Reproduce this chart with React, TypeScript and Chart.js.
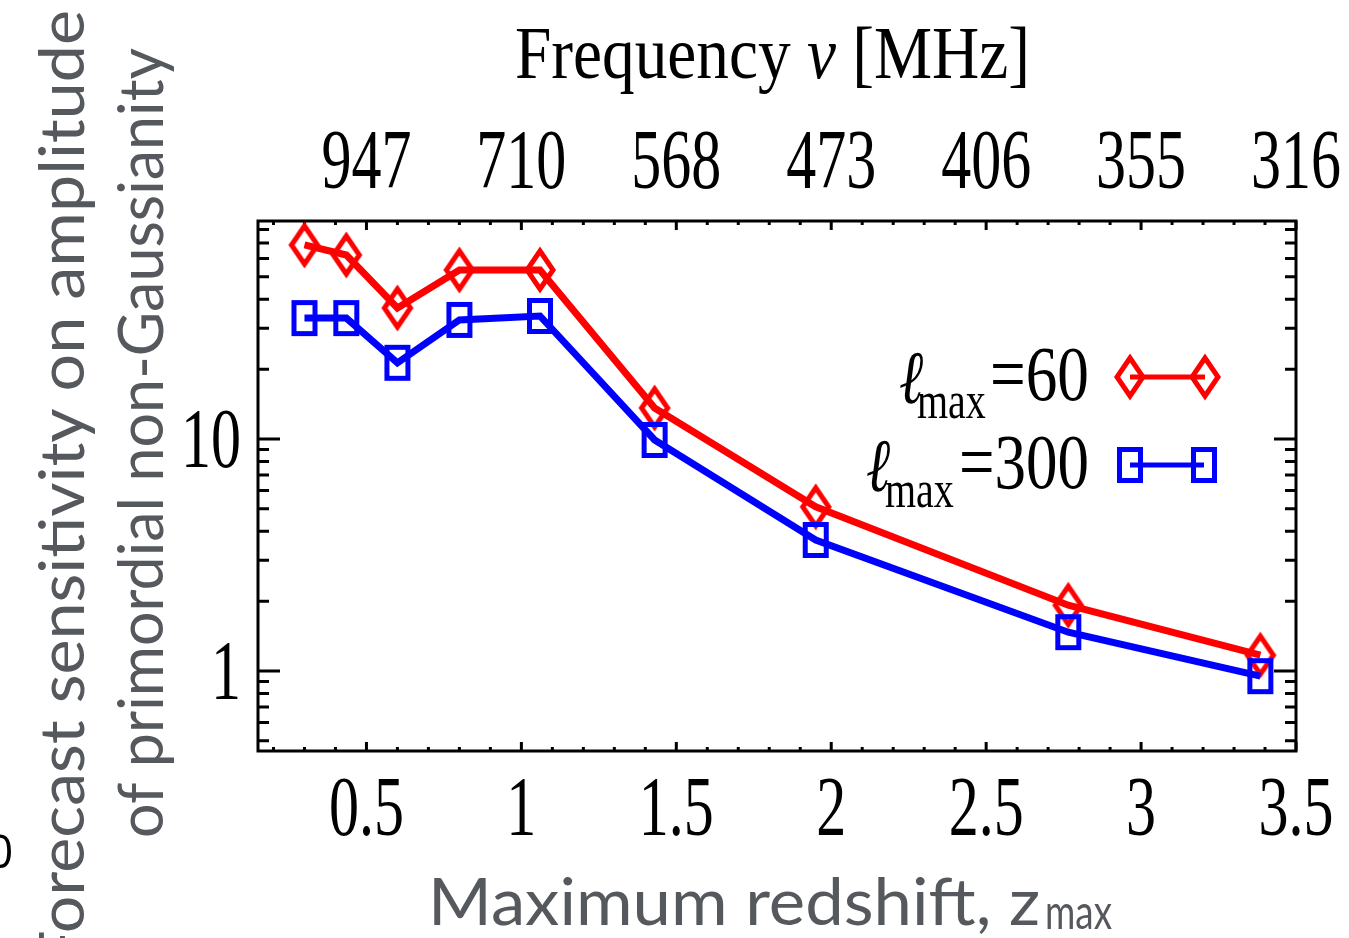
import React, { useEffect, useRef } from "react";
import { Chart, registerables } from "chart.js";

Chart.register(...registerables);

// ---- data ----
const zmax = [0.3, 0.435, 0.6, 0.8, 1.06, 1.43, 1.95, 2.765, 3.385];
const sigmaLmax60 = [68.6, 62.1, 36.7, 53.5, 53.5, 13.6, 5.1, 1.92, 1.17];
const sigmaLmax300 = [33.2, 33.2, 21.3, 32.6, 33.9, 9.9, 3.67, 1.47, 0.95];

const xTickValues = [0.5, 1, 1.5, 2, 2.5, 3, 3.5];
const xTickLabels = ["0.5", "1", "1.5", "2", "2.5", "3", "3.5"];
const freqTickLabels = ["947", "710", "568", "473", "406", "355", "316"];
const yTickValues = [1, 10];
const yTickLabels = ["1", "10"];
const yMinorValues = [0.5, 0.6, 0.7, 0.8, 0.9, 2, 3, 4, 5, 6, 7, 8, 9, 20, 30, 40, 50, 60, 70, 80];
const xMinorValues = [
  0.2, 0.3, 0.4, 0.6, 0.7, 0.8, 0.9, 1.1, 1.2, 1.3, 1.4, 1.6, 1.7, 1.8, 1.9,
  2.1, 2.2, 2.3, 2.4, 2.6, 2.7, 2.8, 2.9, 3.1, 3.2, 3.3, 3.4,
];
const seriesNames = ["=60", "=300"];
const seriesColors = ["#ff0000", "#0000ff"];

const xTitle = "Maximum redshift, z";
const xTitleSub = "max";
const yTitleLines = ["Forecast sensitivity on amplitude", "of primordial non-Gaussianity"];
const topTitle = ["Frequency ", "\u03bd", " [MHz]"];

const SERIF = '"Liberation Serif", "DejaVu Serif", serif';
const SANS = 'Lato, "Open Sans", sans-serif';
const GRAY = "#55595e";

function makeDiamond(color: string) {
  const c = document.createElement("canvas");
  c.width = 34;
  c.height = 48;
  const g = c.getContext("2d")!;
  g.strokeStyle = color;
  g.lineWidth = 5;
  g.lineJoin = "miter";
  g.beginPath();
  g.moveTo(17, 5);
  g.lineTo(30, 24);
  g.lineTo(17, 43);
  g.lineTo(4, 24);
  g.closePath();
  g.stroke();
  return c;
}

function makeSquare(color: string) {
  const c = document.createElement("canvas");
  c.width = 30;
  c.height = 40;
  const g = c.getContext("2d")!;
  g.strokeStyle = color;
  g.lineWidth = 5;
  g.strokeRect(4.5, 4.5, 21, 31);
  return c;
}

function drawStr(
  ctx: CanvasRenderingContext2D,
  s: string,
  x: number,
  y: number,
  font: string,
  align: CanvasTextAlign = "left",
  sx = 1,
  sy = 1,
  color = "#000"
) {
  ctx.save();
  ctx.font = font;
  ctx.fillStyle = color;
  ctx.textAlign = align;
  ctx.textBaseline = "alphabetic";
  ctx.translate(x, y);
  ctx.scale(sx, sy);
  ctx.fillText(s, 0, 0);
  ctx.restore();
}

function fitWidth(ctx: CanvasRenderingContext2D, s: string, font: string) {
  ctx.save();
  ctx.font = font;
  const w = ctx.measureText(s).width;
  ctx.restore();
  return w;
}

export default function App() {
  const ref = useRef<HTMLCanvasElement>(null);

  useEffect(() => {
    const canvas = ref.current!;
    const diamond = makeDiamond(seriesColors[0]);
    const square = makeSquare(seriesColors[1]);
    const markers = [diamond, square];

    const framePlugin = {
      id: "framePlugin",
      beforeDatasetsDraw(chart: any) {
        const ctx: CanvasRenderingContext2D = chart.ctx;
        const { left, right, top, bottom } = chart.chartArea;
        const xs = chart.scales.x;
        const ys = chart.scales.y;
        ctx.save();
        ctx.strokeStyle = "#000";
        ctx.lineCap = "butt";
        const xt = (v: number, len: number, lw: number) => {
          const px = xs.getPixelForValue(v);
          ctx.lineWidth = lw;
          ctx.beginPath();
          ctx.moveTo(px, bottom);
          ctx.lineTo(px, bottom - len);
          ctx.moveTo(px, top);
          ctx.lineTo(px, top + len);
          ctx.stroke();
        };
        xs.ticks.forEach((t: any) => xt(t.value, 9, 3));
        xMinorValues.forEach((v) => xt(v, 4, 3));
        const yt = (v: number, len: number, lw: number) => {
          const py = ys.getPixelForValue(v);
          ctx.lineWidth = lw;
          ctx.beginPath();
          ctx.moveTo(left, py);
          ctx.lineTo(left + len, py);
          ctx.moveTo(right, py);
          ctx.lineTo(right - len, py);
          ctx.stroke();
        };
        ys.ticks.forEach((t: any) => yt(t.value, 22, 3));
        yMinorValues.forEach((v) => yt(v, 11, 3));
        ctx.lineWidth = 3;
        ctx.strokeRect(left, top, right - left, bottom - top);
        ctx.restore();
      },
      afterDraw(chart: any) {
        const ctx: CanvasRenderingContext2D = chart.ctx;
        const xs = chart.scales.x;
        const ys = chart.scales.y;
        const tickFont = `60px ${SERIF}`;
        xs.ticks.forEach((t: any, i: number) => {
          const px = xs.getPixelForValue(t.value);
          drawStr(ctx, xTickLabels[i], px, 835, tickFont, "center", 1, 1.4);
          drawStr(ctx, freqTickLabels[i], px, 188, tickFont, "center", 1, 1.4);
        });
        ys.ticks.forEach((t: any, i: number) => {
          const py = ys.getPixelForValue(t.value);
          drawStr(ctx, yTickLabels[i], 241, py + 28, tickFont, "right", 1, 1.4);
        });

        // top title
        const tFonts = [`62px ${SERIF}`, `italic 62px ${SERIF}`, `62px ${SERIF}`];
        const ws = topTitle.map((s, i) => fitWidth(ctx, s, tFonts[i]));
        const total = ws.reduce((a, b) => a + b, 0);
        const sxT = (1030 - 515) / total;
        let cx = 515;
        topTitle.forEach((s, i) => {
          drawStr(ctx, s, cx, 78, tFonts[i], "left", sxT, 1.18);
          cx += ws[i] * sxT;
        });

        // bottom title
        const bFont = `66px ${SANS}`;
        const bw = fitWidth(ctx, xTitle, bFont);
        drawStr(ctx, xTitle, 428, 925, bFont, "left", (1040 - 428) / bw, 1, GRAY);
        const sFont = `48px ${SANS}`;
        const sw = fitWidth(ctx, xTitleSub, sFont);
        drawStr(ctx, xTitleSub, 1045, 929, sFont, "left", (1112 - 1045) / sw, 1, GRAY);

        // y titles (rotated)
        const yFont = `62px ${SANS}`;
        const yPos = [
          { bx: 84, start: 968, end: 10 },
          { bx: 163, start: 838, end: 48 },
        ];
        yTitleLines.forEach((s, i) => {
          const w = fitWidth(ctx, s, yFont);
          const p = yPos[i];
          ctx.save();
          ctx.font = yFont;
          ctx.fillStyle = GRAY;
          ctx.textAlign = "left";
          ctx.textBaseline = "alphabetic";
          ctx.translate(p.bx, p.start);
          ctx.rotate(-Math.PI / 2);
          ctx.scale((p.start - p.end) / w, 1);
          ctx.fillText(s, 0, 0);
          ctx.restore();
        });

        // stray fragment at the left edge
        drawStr(ctx, "0", -13, 868, `46px "Open Sans", sans-serif`, "left", 1, 1, "#000");

        // legend
        const legend = [
          { ellX: 899, base: 400, subX: 917, subBase: 418, valX: 990, y: 377, x1: 1130, x2: 1205 },
          { ellX: 866, base: 488, subX: 885, subBase: 507, valX: 959, y: 465, x1: 1130, x2: 1204 },
        ];
        legend.forEach((L, i) => {
          drawStr(ctx, "\u2113", L.ellX, L.base + 3, `italic 58px ${SERIF}`, "left", 1, 1.3);
          drawStr(ctx, "max", L.subX, L.subBase, `40px ${SERIF}`, "left", 1, 1.3);
          const vf = `56px ${SERIF}`;
          const vw = fitWidth(ctx, seriesNames[i], vf);
          drawStr(ctx, seriesNames[i], L.valX, L.base, vf, "left", (1089 - L.valX) / vw, 1.38);
          ctx.save();
          ctx.strokeStyle = seriesColors[i];
          ctx.lineWidth = 5;
          ctx.beginPath();
          ctx.moveTo(L.x1, L.y);
          ctx.lineTo(L.x2, L.y);
          ctx.stroke();
          ctx.restore();
          const m = markers[i];
          ctx.drawImage(m, L.x1 - m.width / 2, L.y - m.height / 2);
          ctx.drawImage(m, L.x2 - m.width / 2, L.y - m.height / 2);
        });
      },
    };

    const hidden = {
      ticks: { display: false },
      grid: { display: false, drawTicks: false },
      border: { display: false },
    };

    const chart = new Chart(canvas, {
      type: "line",
      data: {
        datasets: [
          {
            label: "lmax=60",
            data: zmax.map((z, i) => ({ x: z, y: sigmaLmax60[i] })),
            borderColor: seriesColors[0],
            backgroundColor: seriesColors[0],
            borderWidth: 7,
            pointStyle: diamond as any,
            pointRadius: 14,
            tension: 0,
            fill: false,
            order: 2,
          },
          {
            label: "lmax=300",
            data: zmax.map((z, i) => ({ x: z, y: sigmaLmax300[i] })),
            borderColor: seriesColors[1],
            backgroundColor: seriesColors[1],
            borderWidth: 7,
            pointStyle: square as any,
            pointRadius: 14,
            tension: 0,
            fill: false,
            order: 1,
          },
        ],
      },
      options: {
        responsive: false,
        animation: false,
        devicePixelRatio: 1,
        layout: { padding: 0 },
        plugins: { legend: { display: false }, tooltip: { enabled: false } },
        scales: {
          x: {
            type: "linear",
            position: "bottom",
            min: 0.15,
            max: 3.5,
            afterBuildTicks: (s: any) => {
              s.ticks = xTickValues.map((v) => ({ value: v }));
            },
            afterFit: (s: any) => {
              s.height = 187;
            },
            ...hidden,
          },
          x2: {
            type: "linear",
            position: "top",
            min: 0.15,
            max: 3.5,
            afterFit: (s: any) => {
              s.height = 221;
            },
            ...hidden,
          },
          y: {
            type: "logarithmic",
            position: "left",
            min: 0.452,
            max: 87,
            afterBuildTicks: (s: any) => {
              s.ticks = yTickValues.map((v) => ({ value: v }));
            },
            afterFit: (s: any) => {
              s.width = 258;
            },
            ...hidden,
          },
          y2: {
            type: "logarithmic",
            position: "right",
            min: 0.452,
            max: 87,
            afterFit: (s: any) => {
              s.width = 53;
            },
            ...hidden,
          },
        } as any,
      },
      plugins: [framePlugin],
    });
    return () => chart.destroy();
  }, []);

  return (
    <div
      style={{
        position: "fixed",
        left: 0,
        top: 0,
        width: 1349,
        height: 938,
        background: "#fff",
        overflow: "hidden",
      }}
    >
      <canvas ref={ref} width={1349} height={938} style={{ display: "block" }} />
    </div>
  );
}
